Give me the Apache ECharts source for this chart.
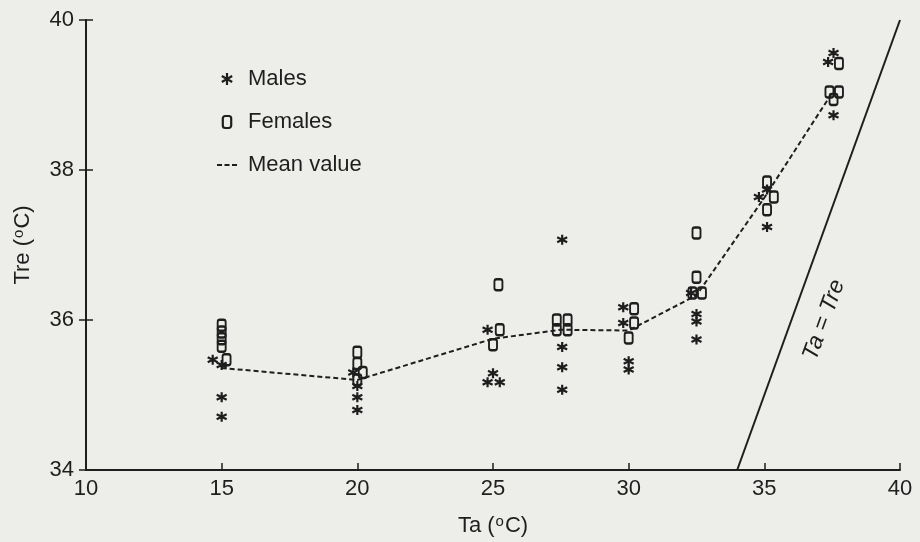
<!DOCTYPE html>
<html>
<head>
<meta charset="utf-8">
<script src="https://cdn.jsdelivr.net/npm/echarts@6/dist/echarts.min.js"></script>
<style>
  html, body { margin: 0; padding: 0; background: #ededea; }
  #chart { width: 920px; height: 542px; }
</style>
</head>
<body>
<div id="chart"></div>
<script>
// Ta (ambient) vs Tre (rectal) temperatures
const males = [
    [14.67, 35.47], [15.0, 35.4], [15.0, 34.97], [15.0, 34.71],
    [19.85, 35.3], [20.0, 35.12], [20.0, 34.97], [20.0, 34.8],
    [24.8, 35.87], [25.0, 35.29], [24.8, 35.17], [25.25, 35.17],
    [27.55, 37.07], [27.55, 35.64], [27.55, 35.37], [27.55, 35.07],
    [29.8, 36.17], [29.8, 35.96], [30.0, 35.45], [30.0, 35.34],
    [32.3, 36.36], [32.5, 36.08], [32.5, 35.98], [32.5, 35.74],
    [34.8, 37.64], [35.1, 37.74], [35.1, 37.24],
    [37.55, 39.56], [37.35, 39.44], [37.55, 38.73]
];
const females = [
    [15.0, 35.93], [15.0, 35.84], [15.0, 35.75], [15.0, 35.65], [15.18, 35.47],
    [20.0, 35.57], [20.0, 35.42], [20.2, 35.3], [20.0, 35.2],
    [25.2, 36.47], [25.25, 35.87], [25.0, 35.67],
    [27.35, 36.0], [27.35, 35.87], [27.75, 36.0], [27.75, 35.87],
    [30.2, 36.15], [30.2, 35.96], [30.0, 35.76],
    [32.5, 37.16], [32.5, 36.57], [32.35, 36.36], [32.7, 36.36],
    [35.1, 37.84], [35.35, 37.64], [35.1, 37.47],
    [37.75, 39.42], [37.4, 39.04], [37.75, 39.04], [37.55, 38.94]
];
const meanTa = [15, 20, 25, 27.5, 30, 32.5, 35, 37.5];
const meanTre = [35.36, 35.2, 35.75, 35.87, 35.86, 36.33, 37.63, 39.03];
const identityLine = [[34, 34], [40, 40]];
const xTicks = [10, 15, 20, 25, 30, 35, 40];
const yTicks = [34, 36, 38, 40];

const ink = '#1e1e1e';
const font = 'Liberation Sans';
const starPath = 'path://M5,0L5,10M0.67,2.5L9.33,7.5M0.67,7.5L9.33,2.5';
const ovalPath = 'path://M2,0L5,0A2,2 0 0 1 7,2L7,8A2,2 0 0 1 5,10L2,10A2,2 0 0 1 0,8L0,2A2,2 0 0 1 2,0Z';
const dashPath = 'path://M0,4L5,4L5,6L0,6ZM7.5,4L12.5,4L12.5,6L7.5,6ZM15,4L20,4L20,6L15,6Z';

const chart = echarts.init(document.getElementById('chart'));

const option = {
    backgroundColor: '#ededea',
    animation: false,
    grid: { left: 86, right: 20, top: 20, bottom: 72, containLabel: false },
    legend: {
        orient: 'vertical',
        left: 212,
        top: 63,
        itemGap: 21,
        itemWidth: 20,
        itemHeight: 12,
        textStyle: { fontFamily: font, fontSize: 22, color: ink, padding: [0, 0, 0, 6] },
        data: [
            { name: 'Males', icon: starPath, itemStyle: { color: 'rgba(0,0,0,0)', borderColor: ink, borderWidth: 2.2 } },
            { name: 'Females', icon: ovalPath, itemStyle: { color: 'rgba(0,0,0,0)', borderColor: ink, borderWidth: 2.2 } },
            { name: 'Mean value', icon: dashPath, itemStyle: { color: ink, borderWidth: 0 } }
        ]
    },
    xAxis: {
        type: 'value',
        min: 10,
        max: 40,
        interval: 5,
        name: '{a|Ta (}{s|o}{a|C)}',
        nameLocation: 'middle',
        nameGap: 44,
        nameTextStyle: {
            rich: {
                a: { fontFamily: font, fontSize: 22, color: ink },
                s: { fontFamily: font, fontSize: 15, color: ink, verticalAlign: 'top', padding: [0, 1, 8, 1] }
            }
        },
        axisLine: { lineStyle: { color: ink, width: 2 } },
        axisTick: { inside: true, length: 7, lineStyle: { color: ink, width: 1.5 } },
        axisLabel: {
            fontFamily: font, fontSize: 22, color: ink, margin: 8,
            formatter: v => xTicks.includes(v) ? String(v) : ''
        },
        splitLine: { show: false }
    },
    yAxis: [
        {
            type: 'value',
            min: 34,
            max: 40,
            interval: 2,
            name: '{a|Tre (}{s|o}{a|C)}',
            nameLocation: 'middle',
            nameGap: 52,
            nameRotate: 90,
            nameTextStyle: {
                rich: {
                    a: { fontFamily: font, fontSize: 22, color: ink },
                    s: { fontFamily: font, fontSize: 15, color: ink, padding: [0, 1, 8, 1] }
                }
            },
            axisLine: { show: true, lineStyle: { color: ink, width: 2 } },
            axisTick: { show: true, length: 7, lineStyle: { color: ink, width: 1.5 } },
            axisLabel: {
                fontFamily: font, fontSize: 22, color: ink, margin: 12,
                formatter: v => yTicks.includes(v) ? String(v) : ''
            },
            splitLine: { show: false }
        },
        {
            type: 'value',
            min: 34,
            max: 40,
            interval: 2,
            position: 'left',
            axisLine: { show: false },
            axisTick: { show: true, inside: true, length: 7, lineStyle: { color: ink, width: 1.5 } },
            axisLabel: { show: false },
            splitLine: { show: false }
        }
    ],
    series: [
        {
            name: 'Mean value',
            type: 'line',
            data: meanTa.map((t, i) => [t, meanTre[i]]),
            symbol: 'none',
            lineStyle: { color: ink, width: 2, type: [5, 3] },
            itemStyle: { color: ink },
            z: 1
        },
        {
            name: 'Males',
            type: 'scatter',
            data: males,
            symbol: starPath,
            symbolSize: [10, 10],
            itemStyle: { color: 'rgba(0,0,0,0)', borderColor: ink, borderWidth: 2.2, opacity: 1 },
            z: 3
        },
        {
            name: 'Females',
            type: 'scatter',
            data: females,
            symbol: ovalPath,
            symbolSize: [8, 11],
            itemStyle: { color: 'rgba(0,0,0,0)', borderColor: ink, borderWidth: 2.2, opacity: 1 },
            z: 3
        },
        {
            name: 'Ta = Tre',
            type: 'line',
            data: identityLine,
            symbol: 'none',
            lineStyle: { color: ink, width: 2 },
            z: 2
        },
        {
            name: 'label',
            type: 'scatter',
            data: [[37.2, 36.0]],
            symbolSize: 1,
            silent: true,
            itemStyle: { color: 'rgba(0,0,0,0)', opacity: 1 },
            label: {
                show: true,
                formatter: 'Ta = Tre',
                rotate: 70,
                position: 'inside',
                fontFamily: font,
                fontStyle: 'italic',
                fontSize: 23,
                color: ink,
                opacity: 1
            }
        }
    ]
};

chart.setOption(option);
window.addEventListener('resize', () => chart.resize());
</script>
</body>
</html>
